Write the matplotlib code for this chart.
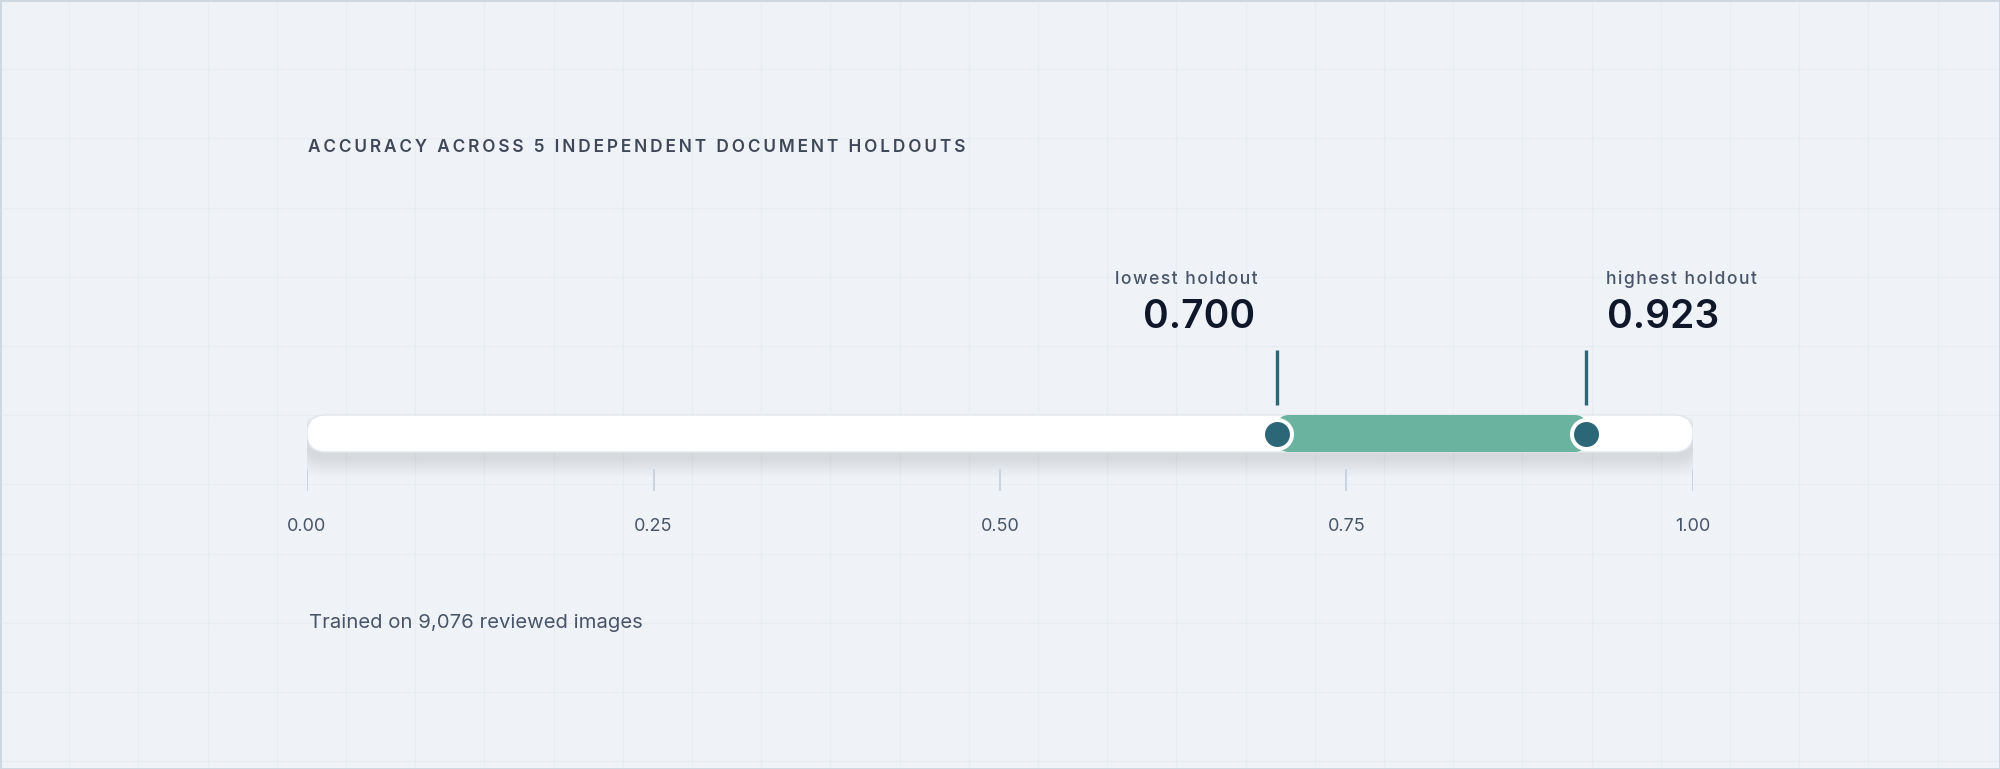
import matplotlib
matplotlib.use("Agg")
import matplotlib.pyplot as plt
from matplotlib.patches import FancyBboxPatch, Rectangle
import numpy as np

# data
title = "ACCURACY ACROSS 5 INDEPENDENT DOCUMENT HOLDOUTS"
footer = "Trained on 9,076 reviewed images"
tick_values = [0.0, 0.25, 0.5, 0.75, 1.0]
tick_labels = ["0.00", "0.25", "0.50", "0.75", "1.00"]
low_label = "lowest holdout"
high_label = "highest holdout"
low_value = 0.700
high_value = 0.923

W, H = 2000, 769
PX = 1386  # pixels per accuracy unit

BG = "#eff3f7"
GRID = "#e8edf2"
TEAL = "#2b6777"
GREEN = "#69b39f"
SLATE = "#475569"
INK = "#0f172a"

plt.rcParams["font.family"] = ["Inter", "DejaVu Sans"]

fig = plt.figure(figsize=(W / 100, H / 100), dpi=100, facecolor=BG)

# background grid + frame
bg = fig.add_axes([0, 0, 1, 1])
bg.set_xlim(0, W)
bg.set_ylim(H, 0)
bg.axis("off")
step = 69.2
for gx in np.arange(step, W, step):
    bg.axvline(gx, color=GRID, lw=0.8, zorder=0)
for gy in np.arange(step, H, step):
    bg.axhline(gy, color=GRID, lw=0.8, zorder=0)
bg.add_patch(Rectangle((0.5, 0.5), W - 1, H - 1, fill=False, edgecolor="#cfd7e0", lw=1.4))

# main axis: x = accuracy, y = pixels from bottom
ax = fig.add_axes([307 / W, 0, PX / W, 1])
ax.set_xlim(0, 1)
ax.set_ylim(0, H)
ax.axis("off")


def pill(x0, x1, yb, h, r, **kw):
    p = FancyBboxPatch((x0, yb), x1 - x0, h,
                       boxstyle=f"round,pad=0,rounding_size={r / PX}",
                       mutation_aspect=PX, **kw)
    ax.add_patch(p)
    return p


bar_y, bar_h = 317, 37
yc = bar_y + bar_h / 2

# soft shadow under the track
for i in range(1, 26):
    e = i * 1.3
    pill(0 - e * 0.5 / PX, 1 + e * 0.5 / PX, bar_y - 6 - e * 0.6, bar_h + e * 0.8, bar_h / 2 + e * 0.5,
         facecolor="#64748b", edgecolor="none", alpha=0.0032, zorder=1)

# track
pill(0, 1, bar_y, bar_h, bar_h / 2, facecolor="white", edgecolor="#e1e6ec", lw=1.0, zorder=2)

# range between lowest and highest holdout
pill(low_value, high_value, bar_y, bar_h, 12, facecolor=GREEN, edgecolor="none", zorder=3)

# markers
ax.scatter([low_value, high_value], [yc, yc], s=436, color=TEAL,
           edgecolors="white", linewidths=2.9, zorder=5)
ax.vlines([low_value, high_value], 364, 419, color=TEAL, lw=2.4, zorder=4)

# ticks
ax.vlines(tick_values, 278, 300, color="#cbd5e1", lw=1.5, zorder=2)
for v, lab in zip(tick_values, tick_labels):
    ax.text(v, 238, lab, ha="center", va="baseline", fontsize=13, color=SLATE)

# labels over the markers
lab_kw = dict(textcoords="offset points", va="baseline", fontsize=12.6, color=SLATE,
              fontweight="medium")
val_kw = dict(textcoords="offset points", va="baseline", fontsize=28, color=INK,
              fontweight="semibold")
ax.annotate("\u200a".join(low_label), xy=(low_value, 485), xytext=(-14.4, 0), ha="right", **lab_kw)
ax.annotate(f"{low_value:.3f}", xy=(low_value, 441), xytext=(-15.8, 0), ha="right", **val_kw)
ax.annotate("\u200a".join(high_label), xy=(high_value, 485), xytext=(14.4, 0), ha="left", **lab_kw)
ax.annotate(f"{high_value:.3f}", xy=(high_value, 441), xytext=(15, 0), ha="left", **val_kw)

# title with letter spacing
spaced = "\u2009".join(title)
fig.text(308 / W, 1 - 152 / H, spaced, ha="left", va="baseline", fontsize=12.4,
         fontweight="semibold", color="#3f4858")

fig.text(309 / W, 1 - 628 / H, footer, ha="left", va="baseline", fontsize=14.6,
         color=SLATE)

fig.savefig("out.png", dpi=100, facecolor=BG)
